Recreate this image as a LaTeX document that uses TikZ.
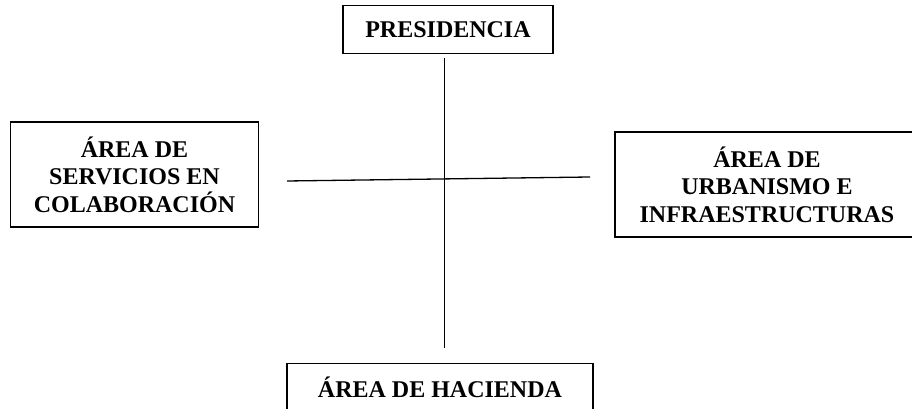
\documentclass[tikz,border=0pt]{standalone}
\usepackage{fontspec}
\setmainfont{Liberation Serif}
\usepackage{tikz}

\begin{document}
\begin{tikzpicture}[x=1pt, y=1pt,
  area/.style={draw, line width=1.5pt, align=center, inner sep=0pt,
    font=\bfseries\fontsize{24}{27.6}\selectfont},
  link/.style={line width=1.3pt}]
\clip (0, 0) rectangle (912, 409);
% Boxes
\node[area, minimum width=210, minimum height=48] (pres) at (448, 379.5) {PRESIDENCIA};
\node[area, minimum width=248, minimum height=105] (serv) at (134.5, 234.5) {ÁREA DE\\SERVICIOS EN\\COLABORACIÓN};
\node[area, minimum width=304, minimum height=105] (urb) at (767, 224.5) {ÁREA DE\\URBANISMO E\\INFRAESTRUCTURAS};
\node[area, minimum width=306, text height=34pt, text depth=20pt, anchor=north] (hac) at (440, 46) {ÁREA DE HACIENDA};

% Cross lines
\coordinate (vtop) at (444.5, 351);
\coordinate (vbot) at (444.5, 61);
\coordinate (hleft) at (287, 228);
\coordinate (hright) at (590, 232);
\draw[link] (vtop) -- (vbot);
\draw[link] (hleft) -- (hright);
\end{tikzpicture}
\end{document}
